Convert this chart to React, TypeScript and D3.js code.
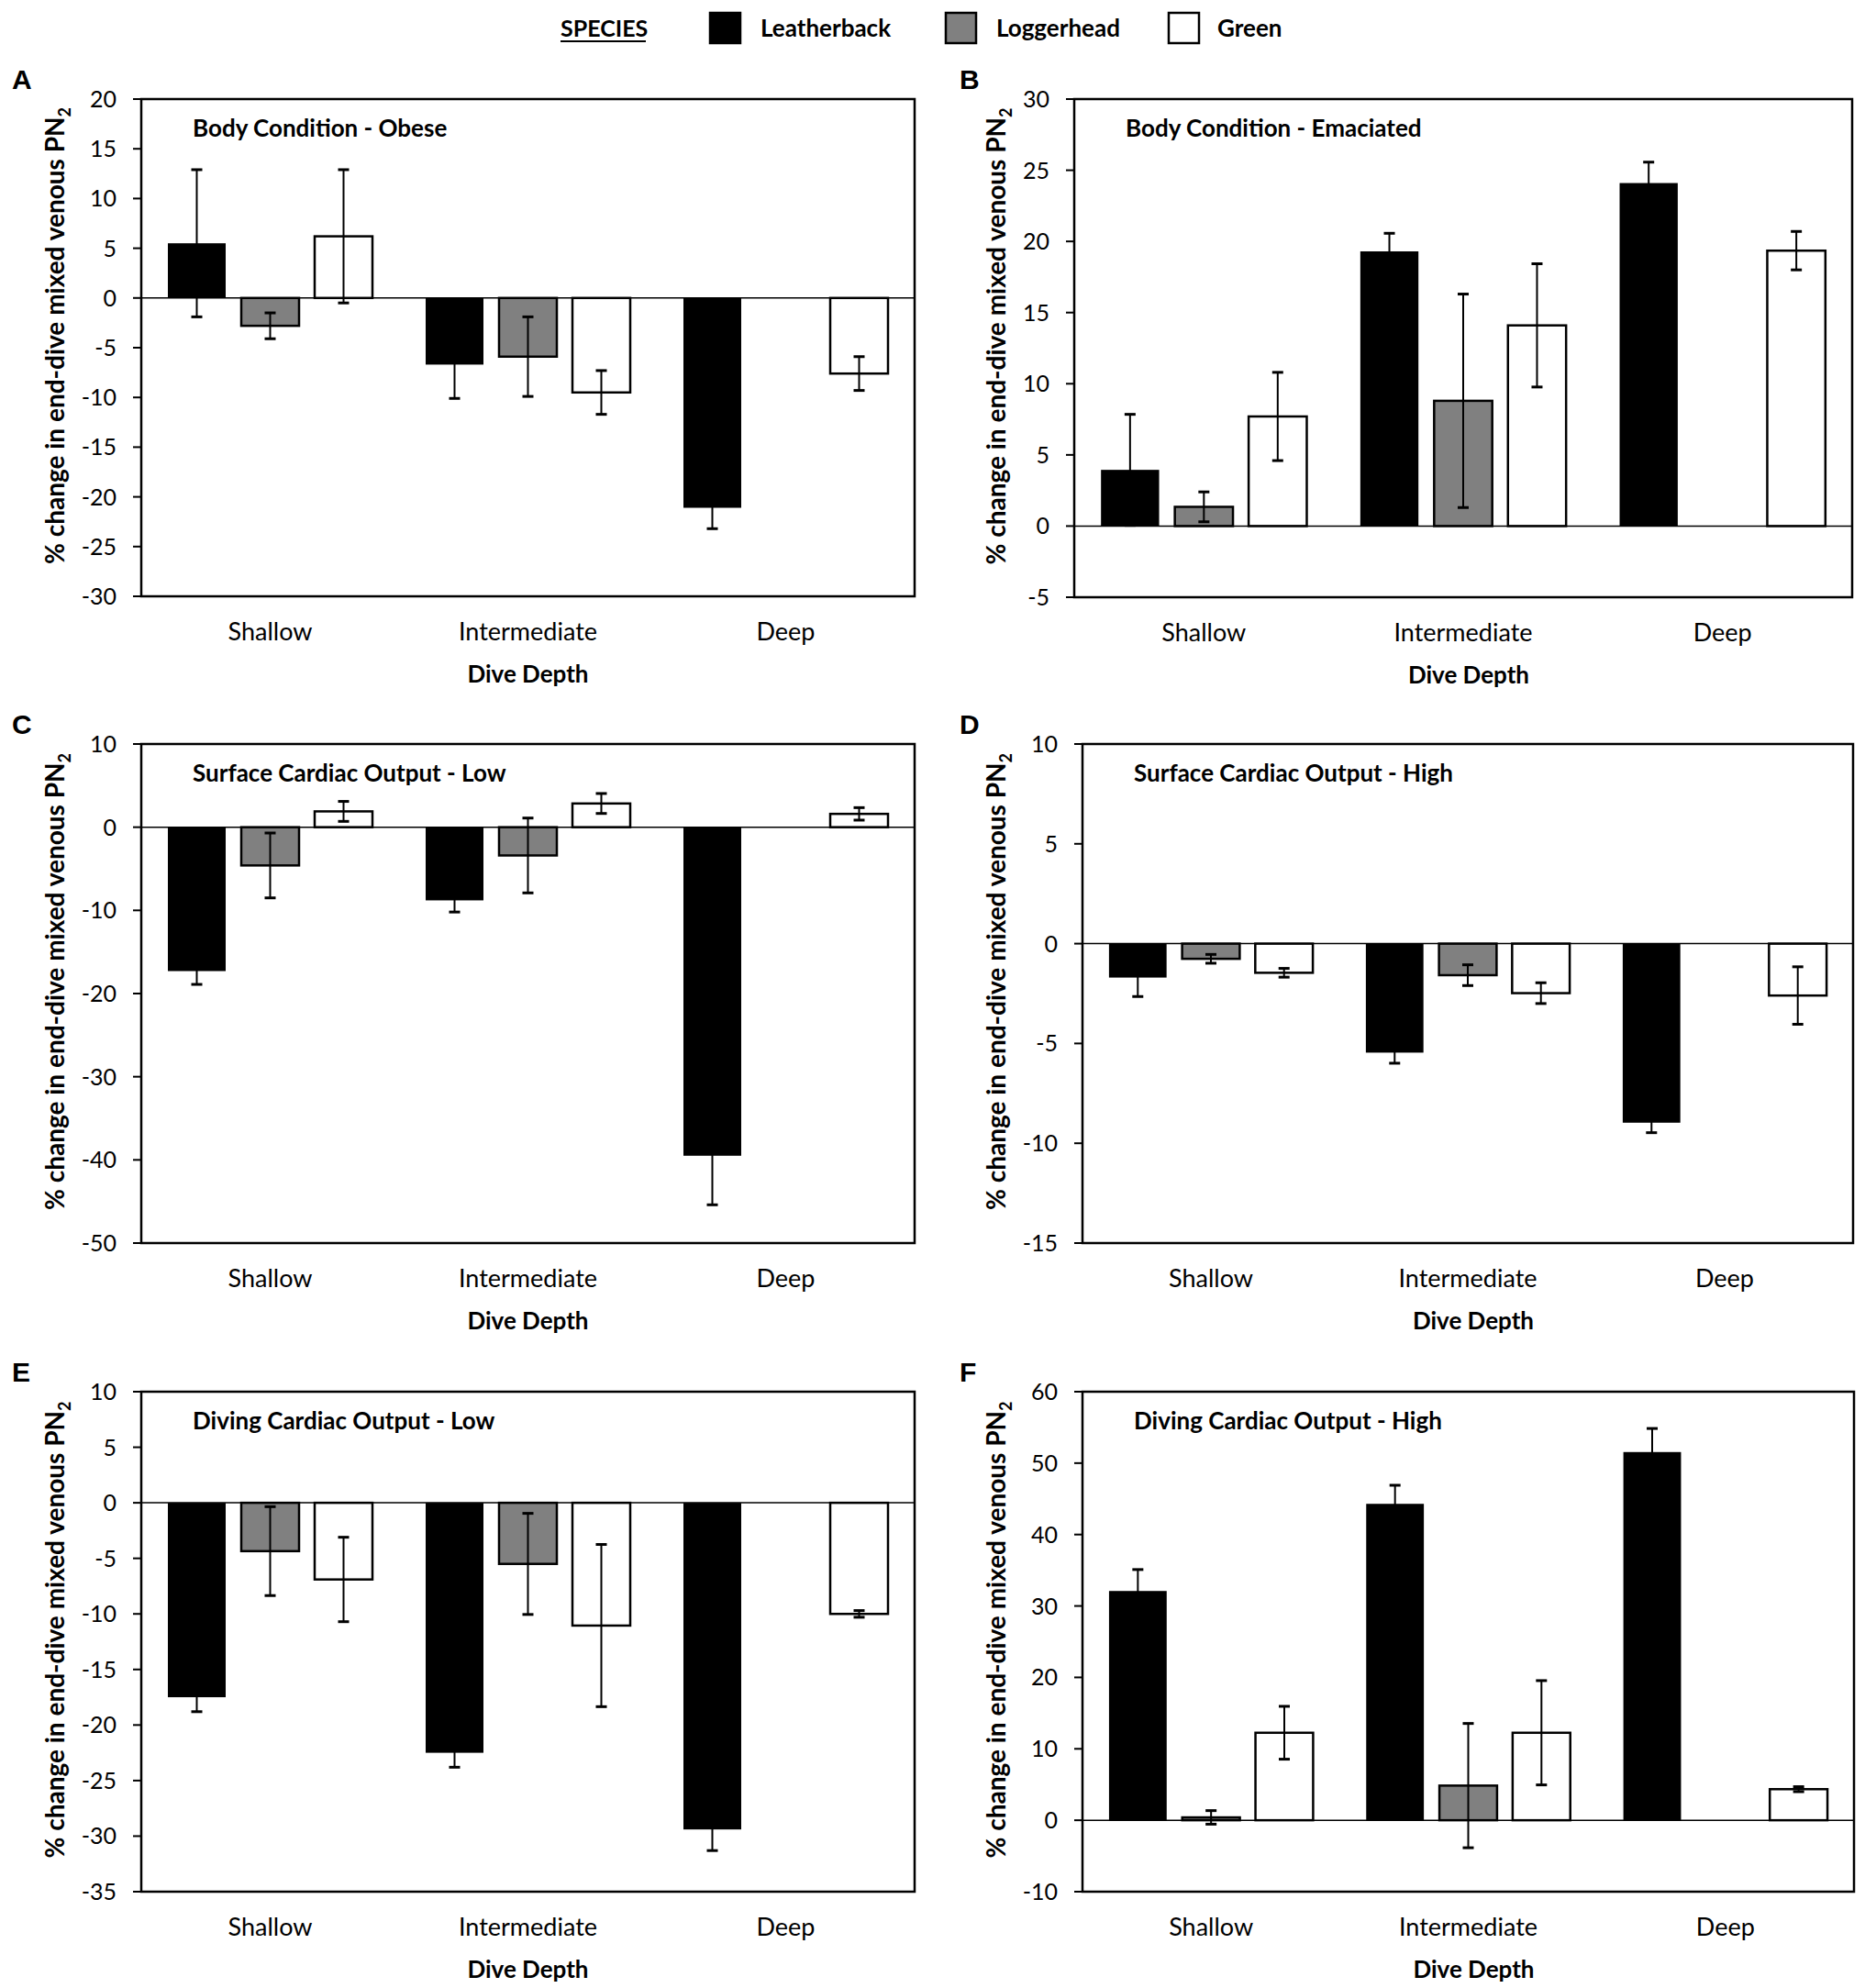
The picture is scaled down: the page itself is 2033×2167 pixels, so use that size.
import React from "react";
import * as d3 from "d3";

const categories = ["Shallow", "Intermediate", "Deep"];
const species = ["Leatherback", "Loggerhead", "Green"];
const speciesFill = ["#000000", "#808080", "#ffffff"];

const panelLetters = ["A", "B", "C", "D", "E", "F"];
const panelTitles = [
  "Body Condition - Obese",
  "Body Condition - Emaciated",
  "Surface Cardiac Output - Low",
  "Surface Cardiac Output - High",
  "Diving Cardiac Output - Low",
  "Diving Cardiac Output - High",
];
const yDomains: [number, number][] = [
  [-30, 20],
  [-5, 30],
  [-50, 10],
  [-15, 10],
  [-35, 10],
  [-10, 60],
];
const yTickSteps = [5, 5, 10, 5, 5, 10];

// rows = species (Leatherback, Loggerhead, Green), cols = categories (Shallow, Intermediate, Deep)
const obeseMean = [[5.5, -6.7, -21.1], [-2.8, -5.9, null], [6.2, -9.5, -7.6]];
const obeseErr = [[7.4, 3.4, 2.1], [1.3, 4.0, null], [6.7, 2.2, 1.7]];
const emaciatedMean = [[3.95, 19.3, 24.1], [1.35, 8.8, null], [7.7, 14.1, 19.35]];
const emaciatedErr = [[3.9, 1.27, 1.47], [1.05, 7.5, null], [3.1, 4.33, 1.35]];
const surfLowMean = [[-17.3, -8.8, -39.5], [-4.6, -3.4, null], [1.9, 2.85, 1.6]];
const surfLowErr = [[1.6, 1.4, 5.9], [3.9, 4.5, null], [1.2, 1.2, 0.75]];
const surfHighMean = [[-1.7, -5.46, -8.97], [-0.76, -1.58, null], [-1.46, -2.48, -2.6]];
const surfHighErr = [[0.95, 0.53, 0.5], [0.22, 0.52, null], [0.22, 0.52, 1.44]];
const divLowMean = [[-17.5, -22.5, -29.4], [-4.35, -5.5, null], [-6.9, -11.05, -10.0]];
const divLowErr = [[1.3, 1.3, 1.9], [4.0, 4.55, null], [3.8, 7.3, 0.3]];
const divHighMean = [[32.1, 44.3, 51.55], [0.4, 4.85, null], [12.25, 12.25, 4.35]];
const divHighErr = [[3.0, 2.6, 3.3], [0.95, 8.7, null], [3.7, 7.3, 0.35]];

const panelMeans = [obeseMean, emaciatedMean, surfLowMean, surfHighMean, divLowMean, divHighMean];
const panelErrs = [obeseErr, emaciatedErr, surfLowErr, surfHighErr, divLowErr, divHighErr];

const plotRects = [
  { x0: 154, x1: 997, y0: 108, y1: 650 },
  { x0: 1171, x1: 2019, y0: 108, y1: 651 },
  { x0: 154, x1: 997, y0: 811, y1: 1355 },
  { x0: 1180, x1: 2020, y0: 811, y1: 1355 },
  { x0: 154, x1: 997, y0: 1517, y1: 2062 },
  { x0: 1180, x1: 2021, y0: 1517, y1: 2062 },
];

const FONT = "Lato, 'Open Sans', sans-serif";
const LETTER_FONT = "'Liberation Sans', Arial, sans-serif";

function Panel({ idx }: { idx: number }) {
  const r = plotRects[idx];
  const leftCol = idx % 2 === 0;
  const [lo, hi] = yDomains[idx];
  const y = d3.scaleLinear().domain([lo, hi]).range([r.y1, r.y0]);
  const ticks = d3.range(lo, hi + 0.001, yTickSteps[idx]);
  const xOuter = d3.scaleBand<string>().domain(categories).range([r.x0, r.x1]).padding(0);
  const xInner = d3
    .scaleBand<string>()
    .domain(species)
    .range([0, xOuter.bandwidth()])
    .paddingInner(0.2125)
    .paddingOuter(0.3625);
  const means = panelMeans[idx];
  const errs = panelErrs[idx];
  const yTitleX = leftCol ? 70 : 1096;
  const letterX = leftCol ? 13 : 1046;
  const cy = (r.y0 + r.y1) / 2 - 13;
  const bw = xInner.bandwidth();

  const bars: React.ReactNode[] = [];
  const errBars: React.ReactNode[] = [];
  species.forEach((sp, si) => {
    categories.forEach((cat, ci) => {
      const v = means[si][ci];
      const e = errs[si][ci];
      if (v === null || v === undefined) return;
      const bx = (xOuter(cat) as number) + (xInner(sp) as number);
      const top = y(Math.max(0, v));
      const bot = y(Math.min(0, v));
      bars.push(
        <rect
          key={`b-${si}-${ci}`}
          x={bx}
          y={top}
          width={bw}
          height={bot - top}
          fill={speciesFill[si]}
          stroke="#000"
          strokeWidth={si === 0 ? 0 : 2.5}
        />
      );
      if (e !== null && e !== undefined) {
        const cx = bx + bw / 2;
        const ya = y(v + e);
        const yb = y(v - e);
        errBars.push(
          <g key={`e-${si}-${ci}`} stroke="#000">
            <line x1={cx} x2={cx} y1={ya} y2={yb} strokeWidth={2} />
            <line x1={cx - 6} x2={cx + 6} y1={ya} y2={ya} strokeWidth={3} />
            <line x1={cx - 6} x2={cx + 6} y1={yb} y2={yb} strokeWidth={3} />
          </g>
        );
      }
    });
  });

  return (
    <g>
      <text x={letterX} y={r.y0 - 11} fontFamily={LETTER_FONT} fontWeight="bold" fontSize={30}>
        {panelLetters[idx]}
      </text>
      {bars}
      <line x1={r.x0} x2={r.x1} y1={y(0)} y2={y(0)} stroke="#000" strokeWidth={1.5} />
      {errBars}
      <rect x={r.x0} y={r.y0} width={r.x1 - r.x0} height={r.y1 - r.y0} fill="none" stroke="#000" strokeWidth={2.5} />
      {ticks.map((t) => (
        <g key={`t-${t}`}>
          <line x1={r.x0 - 9} x2={r.x0} y1={y(t)} y2={y(t)} stroke="#000" strokeWidth={2} />
          <text
            x={r.x0 - 27}
            y={y(t)}
            dy="0.36em"
            textAnchor="end"
            fontFamily={FONT}
            fontSize={25}
            fill="#000"
          >
            {String(t)}
          </text>
        </g>
      ))}
      <text x={r.x0 + 56} y={r.y0 + 41} fontFamily={FONT} fontWeight="bold" fontSize={26}>
        {panelTitles[idx]}
      </text>
      {categories.map((c) => (
        <text
          key={`c-${c}`}
          x={(xOuter(c) as number) + xOuter.bandwidth() / 2}
          y={r.y1 + 48}
          textAnchor="middle"
          fontFamily={FONT}
          fontSize={27}
        >
          {c}
        </text>
      ))}
      <text
        x={(r.x0 + r.x1) / 2 + (leftCol ? 0 : 6)}
        y={r.y1 + 94}
        textAnchor="middle"
        fontFamily={FONT}
        fontWeight="bold"
        fontSize={26}
      >
        Dive Depth
      </text>
      <text
        transform="rotate(-90)"
        x={-cy}
        y={yTitleX}
        textAnchor="middle"
        fontFamily={FONT}
        fontWeight="bold"
        fontSize={28}
      >
        % change in end-dive mixed venous PN
        <tspan dy={7} fontSize={18}>
          2
        </tspan>
      </text>
    </g>
  );
}

const legendBoxX = [774, 1031, 1274];
const legendTextX = [829, 1086, 1327];

export default function App() {
  return (
    <svg
      width={2033}
      height={2167}
      viewBox="0 0 2033 2167"
      style={{ position: "fixed", left: 0, top: 0, background: "#fff" }}
    >
      <rect x={0} y={0} width={2033} height={2167} fill="#fff" />
      <text x={611} y={40} fontFamily={FONT} fontWeight="bold" fontSize={25}>
        SPECIES
      </text>
      <line x1={611} x2={704} y1={45} y2={45} stroke="#000" strokeWidth={2} />
      {species.map((s, i) => (
        <g key={s}>
          <rect
            x={legendBoxX[i]}
            y={14}
            width={33}
            height={33}
            fill={speciesFill[i]}
            stroke="#000"
            strokeWidth={2.5}
          />
          <text x={legendTextX[i]} y={40} fontFamily={FONT} fontWeight="bold" fontSize={26}>
            {s}
          </text>
        </g>
      ))}
      {plotRects.map((_, i) => (
        <Panel key={i} idx={i} />
      ))}
    </svg>
  );
}
